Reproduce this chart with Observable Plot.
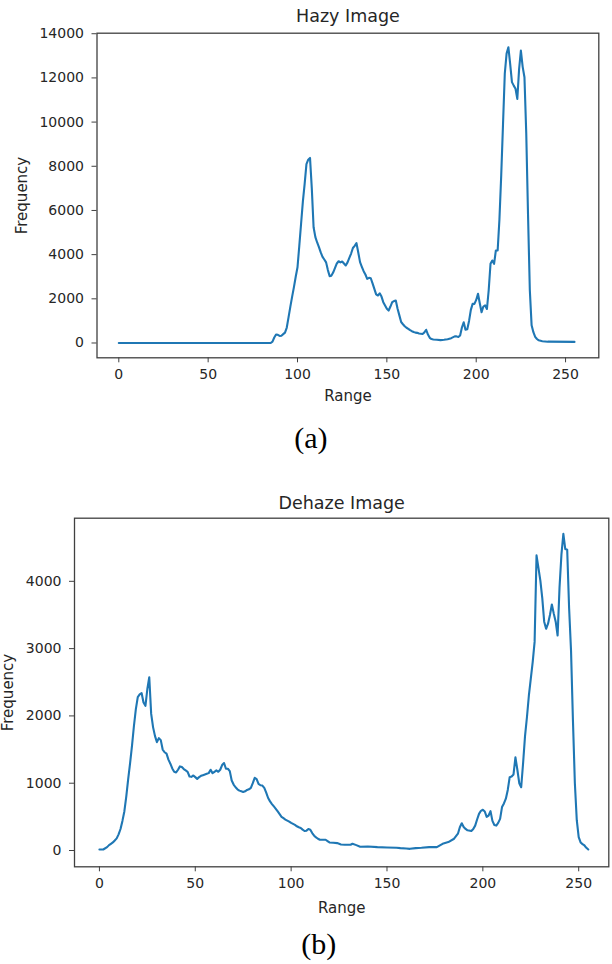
<!DOCTYPE html>
<html><head><meta charset="utf-8">
<script src="https://cdn.jsdelivr.net/npm/d3@7"></script>
<script src="https://cdn.jsdelivr.net/npm/@observablehq/plot@0.6"></script>
<style>
body{margin:0;background:#fff;width:612px;height:964px;position:relative;overflow:hidden}
#a,#b{position:absolute;left:0}
#a{top:0}
#b{top:480px}
svg{display:block}
</style></head><body>
<div id="a"></div><div id="b"></div>
<script>
// ---- Chart (a): Hazy Image ----
const hazyRange = [0,85,86,87,88,89,90,91,92,93,94,95,96,97,98,99,100,101,102,103,104,105,106,107,108,109,110,111,112,113,114,115,116,117,118,119,120,121,122,123,124,125,126,127,128,129,130,131,132,133,134,135,136,137,138,139,140,141,142,143,144,145,146,147,148,149,150,151,152,153,154,155,156,157,158,159,160,161,162,163,164,165,166,167,168,169,170,171,172,173,174,175,176,178,180,182,184,186,188,189,190,191,192,193,194,195,196,197,198,199,200,201,202,203,204,205,206,207,208,209,210,211,212,213,214,215,216,217,218,219,220,221,222,223,224,225,226,227,228,229,230,231,232,233,234,235,237,240,255];
const hazyFreq = [0,0,60,250,385,370,320,330,400,470,700,1170,1650,2100,2530,3000,3430,4400,5400,6400,7200,8100,8300,8380,7000,5240,4790,4550,4340,4100,3900,3780,3650,3300,3025,3050,3200,3400,3600,3700,3650,3690,3600,3510,3650,3850,4050,4300,4400,4520,4100,3660,3450,3250,3100,2905,2950,2930,2700,2450,2200,2150,2250,2100,1850,1700,1550,1470,1650,1850,1900,1920,1550,1250,950,850,760,690,640,580,535,500,470,460,430,420,410,480,600,380,235,180,160,145,130,145,170,220,300,300,270,340,700,940,600,620,1000,1500,1770,1770,1950,2230,1800,1395,1650,1700,1540,2400,3585,3735,3585,4190,4190,5600,7600,9900,12200,13100,13390,12640,11810,11650,11510,11050,12400,13240,12500,12030,9500,5800,2400,800,490,280,180,120,80,60,50];

// ---- Chart (b): Dehaze Image ----
const dehazeRange = [0,2,4,5,6,7,8,9,10,11,12,13,14,15,16,17,18,19,20,21,22,23,24,25,26,27,28,29,30,31,32,33,34,35,36,37,38,39,40,41,42,43,44,45,46,47,48,49,50,51,52,53,54,55,56,57,58,59,60,61,62,63,64,65,66,67,68,69,70,71,72,73,74,75,76,77,78,79,80,81,82,83,84,85,86,87,88,89,90,91,92,93,94,95,96,97,98,99,100,101,102,103,104,105,106,107,108,109,110,111,112,113,114,115,116,118,119,120,122,124,126,128,131,132,134,136,140,145,150,155,157,160,162,165,168,172,176,179,182,185,187,188,189,190,191,192,194,195,196,197,198,199,200,201,202,203,204,205,206,207,208,209,210,211,212,213,214,215,216,217,218,219,220,221,222,223,224,225,226,227,228,229,230,231,232,233,234,235,236,237,238,239,240,241,242,243,244,245,246,247,248,249,250,251,252,253,254,255];
const dehazeFreq = [15,15,50,80,100,120,150,180,240,320,440,580,800,1060,1300,1560,1850,2100,2280,2320,2340,2200,2150,2400,2575,2030,1830,1700,1610,1670,1640,1500,1460,1440,1350,1290,1220,1170,1160,1200,1250,1240,1210,1190,1170,1100,1095,1115,1090,1065,1090,1110,1120,1130,1140,1150,1200,1150,1170,1190,1170,1200,1270,1300,1215,1215,1180,1040,980,940,910,890,880,870,880,900,910,930,1000,1080,1060,990,970,965,930,860,780,730,690,655,620,580,540,500,480,460,445,430,410,395,380,360,345,335,310,290,295,320,310,260,220,195,175,160,160,160,140,120,115,110,90,85,85,100,80,55,60,50,45,40,35,30,25,35,40,50,50,100,125,175,250,345,405,350,320,300,290,320,370,460,545,590,605,580,500,520,585,440,380,370,410,470,645,700,770,900,1090,1100,1130,1385,1200,1000,940,1300,1700,1980,2300,2550,2800,3100,4385,4200,4010,3750,3400,3295,3370,3500,3655,3520,3400,3195,3910,4400,4705,4480,4470,3600,2970,1930,1000,450,200,120,95,75,40,15];

const xTickValues = [0,50,100,150,200,250];
const hazyYTicks = [0,2000,4000,6000,8000,10000,12000,14000];
const dehazeYTicks = [0,1000,2000,3000,4000];

function chart(o){
  const data = o.xs.map((x,i)=>({x, y:o.ys[i]}));
  return Plot.plot({
    width:o.width, height:o.height,
    marginLeft:o.ml, marginRight:o.mr, marginTop:o.mt, marginBottom:o.mb,
    style:{fontFamily:"DejaVu Sans", fontSize:"14px", color:"#262626", background:"#fff"},
    x:{domain:o.xDomain},
    y:{domain:o.yDomain},
    marks:[
      Plot.frame({stroke:"#404040", strokeWidth:1.3}),
      Plot.axisX({ticks:xTickValues, tickSize:5, tickPadding:6, tickFormat:d3.format("d"), label:null, stroke:"#404040"}),
      Plot.axisY({ticks:o.yTicks, tickSize:5, tickPadding:8, tickFormat:d3.format("d"), label:null, stroke:"#404040"}),
      Plot.line(data,{x:"x", y:"y", stroke:"#1f77b4", strokeWidth:2.1}),
      Plot.text([o.title],{frameAnchor:"top", dy:o.titleDy, fontSize:17.5, textAnchor:"middle", lineAnchor:"middle", fill:"#262626"}),
      Plot.text(["Frequency"],{frameAnchor:"left", dx:o.yLabelDx, rotate:-90, fontSize:15, textAnchor:"middle", lineAnchor:"middle", fill:"#262626"}),
      Plot.text(["Range"],{frameAnchor:"bottom", dy:o.xLabelDy, fontSize:15, textAnchor:"middle", lineAnchor:"middle", fill:"#262626"}),
      Plot.text([o.caption],{frameAnchor:"bottom", dy:o.capDy, dx:o.capDx, fontSize:30, fontFamily:"Liberation Serif", textAnchor:"middle", lineAnchor:"middle", fill:"#000"})
    ]
  });
}

document.getElementById("a").append(chart({
  xs:hazyRange, ys:hazyFreq, title:"Hazy Image", caption:"(a)",
  width:612, height:460, ml:96.5, mr:13.7, mt:32.7, mb:102.7,
  xDomain:[-12.2,268.6], yDomain:[-670,14024], yTicks:hazyYTicks,
  titleDy:-16.7, yLabelDx:-74.5, xLabelDy:38.7, capDy:80.7, capDx:-37
}));
document.getElementById("b").append(chart({
  xs:dehazeRange, ys:dehazeFreq, title:"Dehaze Image", caption:"(b)",
  width:612, height:484, ml:74, mr:3.7, mt:37.7, mb:97.7,
  xDomain:[-13.0,265.7], yDomain:[-242,4938], yTicks:dehazeYTicks,
  titleDy:-14.7, yLabelDx:-66, xLabelDy:41.7, capDy:77.7, capDx:-23
}));
</script>
</body></html>
